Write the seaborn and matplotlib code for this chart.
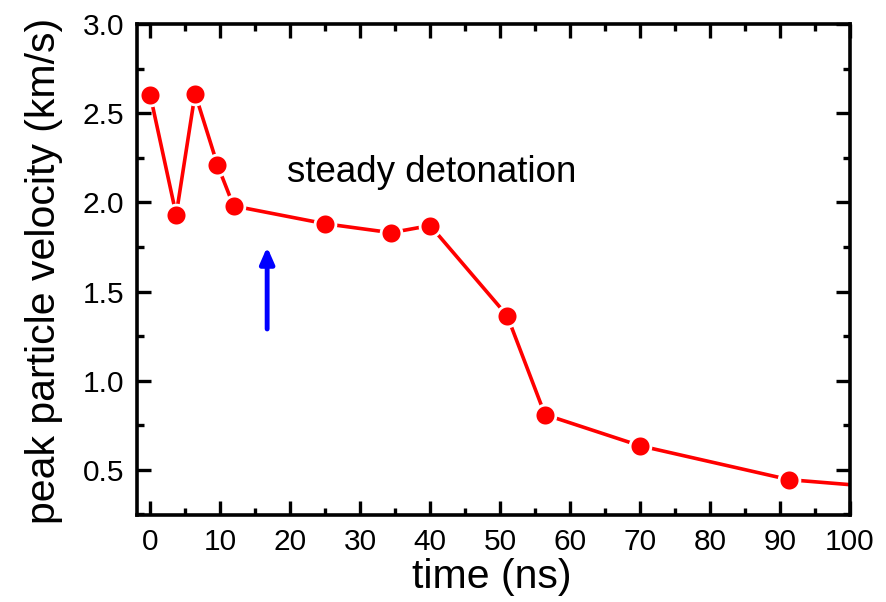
import matplotlib
matplotlib.use("Agg")
import matplotlib.pyplot as plt
import seaborn as sns
import pandas as pd
from matplotlib.ticker import MultipleLocator

time_ns = [0.0, 3.7, 6.4, 9.6, 11.9, 25.0, 34.4, 40.0, 51.0, 56.4, 70.0, 91.3, 110.0]
velocity = [2.60, 1.93, 2.61, 2.21, 1.98, 1.88, 1.83, 1.87, 1.365, 0.81, 0.635, 0.445, 0.385]

annotation_text = "steady detonation"
xlabel = "time (ns)"
ylabel = "peak particle velocity (km/s)"

df = pd.DataFrame({"time": time_ns, "velocity": velocity})

sns.set_theme(style="ticks")
plt.rcParams["font.family"] = ["Liberation Sans", "DejaVu Sans"]
plt.rcParams["text.color"] = "black"
plt.rcParams["axes.labelcolor"] = "black"

fig = plt.figure(figsize=(8.87, 6.02), dpi=100)
ax = fig.add_axes([137 / 887, 1 - 515 / 602, (850 - 137) / 887, (515 - 24) / 602])

sns.lineplot(data=df, x="time", y="velocity", ax=ax, color="#ff0000",
             linewidth=2.6, marker="o", markersize=15, markerfacecolor="#ff0000",
             markeredgecolor="white", markeredgewidth=2.0, sort=False)

ax.set_xlim(-1.9, 100)
ax.set_ylim(0.247, 3.0)
ax.xaxis.set_major_locator(MultipleLocator(10))
ax.xaxis.set_minor_locator(MultipleLocator(5))
ax.yaxis.set_major_locator(MultipleLocator(0.5))
ax.yaxis.set_minor_locator(MultipleLocator(0.25))
ax.set_yticks([0.5, 1.0, 1.5, 2.0, 2.5, 3.0])

for s in ax.spines.values():
    s.set_linewidth(2.6)
    s.set_color("black")

ax.tick_params(which="both", direction="in", top=True, right=True, width=2.4,
               colors="black", labelsize=21.5, pad=9)
ax.tick_params(which="major", length=10)
ax.tick_params(which="minor", length=5)

ax.set_xlabel(xlabel, fontsize=29.5, color="black")
ax.set_ylabel(ylabel, fontsize=29.5, color="black")
ax.xaxis.set_label_coords(0.498, -0.088)
ax.yaxis.set_label_coords(-0.104, 0.497)

ax.text(19.6, 2.17, annotation_text, fontsize=26.5, va="center", ha="left", color="black")
ax.annotate("", xy=(16.7, 1.75), xytext=(16.7, 1.29),
            arrowprops=dict(arrowstyle="-|>,head_length=0.8,head_width=0.35",
                            color="#0000ff", lw=3.5, shrinkA=0, shrinkB=0))

fig.savefig("out.png", dpi=100)
